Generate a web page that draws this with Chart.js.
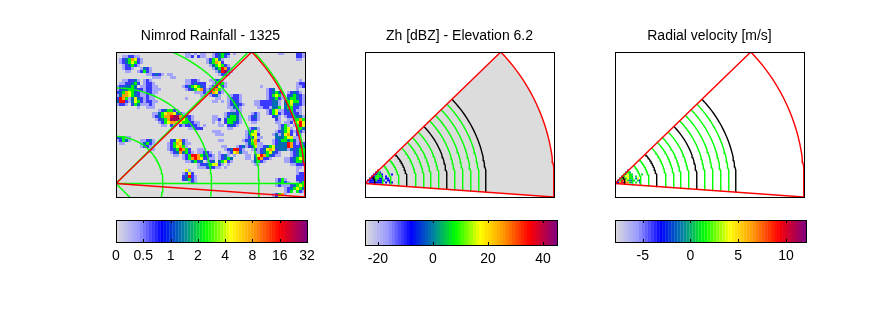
<!DOCTYPE html>
<html>
<head>
<meta charset="utf-8">
<script src="https://cdn.jsdelivr.net/npm/chart.js@4"></script>
<style>
body { margin: 0; background: #fff; width: 889px; height: 333px; overflow: hidden; position: relative; }
canvas { position: absolute; }
</style>
</head>
<body>
<script>
// colour scale shared by all panels (position 0..1)
const cmapStops = [0, 0.12, 0.24, 0.36, 0.47, 0.6, 0.72, 0.855, 1];
const cmapColors = ['#dcdcdc', '#9a9aff', '#0000ff', '#0088a0', '#00ff00', '#ffff00', '#ff9900', '#ff0000', '#800080'];
const cmapLevels = 64;

const titles = ['Nimrod Rainfall - 1325', 'Zh [dBZ] - Elevation 6.2', 'Radial velocity [m/s]'];

// colourbar ticks
const rainTicks = [0, 0.5, 1, 2, 4, 8, 16, 32];
const zhTicks = [-20, 0, 20, 40];
const velTicks = [-5, 0, 5, 10];
const zhRange = [-24.7, 45.1];
const velRange = [-7.9, 12.1];

// scan geometry in plot units
const rangeMax = 189;
const scanAngles = [-4.1, 44.1];
const rainRings = [47, 95.5, 143, 190.5];
const rainSpokes = [-45, 0, 44.8];
const greenRings = [18, 26, 34, 51, 59, 66, 74, 90, 98, 106, 114];
const blackRings = [10, 42, 82, 121];

// values per level char (1..8), '.' is no data
const rainLevels = [0.35, 0.7, 1.3, 2.5, 4.5, 8, 16, 28];
const zhLevels = [-18, -8, 0, 9, 18, 26, 35, 43];
const velLevels = [-6, -3, -1, 1, 4, 6.5, 9, 11.5];

// rain grid, 3 unit cells, row 0 at the top
const rainRows = [
  '.......... .......... ...11.1.11 ..123432.1 .......... ....11.... 221',
  '..112211.. .......... ...112.211 ..123421.. .......... .......... 221',
  '.12346521. .......... .......... 124531.... .......... .......... 11.',
  '.12345421. .......... .......... 134652.... .......... .......... ...',
  '..123421.. .......... .......... .1345421.. .......... .......... ...',
  '..1221..13 21........ .......... ..1347621. .......... .......... ...',
  '...11..124 21........ .......... ...137821. .......... .......... ...',
  '.......... 112321.11. .......... ....1221.. .......... .......... ...',
  '.......... ..111...11 .......... .......... .......... .......... ...',
  '..112231.1 21........ ...11221.. .11231.... .......... .......... .1.',
  '.1122342.1 221....... ...1123222 ..12341... .......... .......... 122',
  '1223343.11 2211...... ..12345432 .123521... ........1. .......... 112',
  '1233443221 22111..... ...1234562 124641.... .......... 123....... 1..',
  '2346543211 2211...... ......1112 136521.... .......... 123431.123 21.',
  '1366543211 211....... ........11 .1231..112 21........ 124541.234 321',
  '2764135321 211....... ...1...... ...11..122 21........ 123421.344 321',
  '3772135421 2211...... .......... ..11.1.123 21....1122 22331.3454 421',
  '1221.24311 121....... .......... .......123 321...1122 22331.3453 321',
  '.......1.. 111....... .......... .......113 21.....112 21334.3442 21.',
  '.......... ....123442 1......... ........11 21........ 1245112342 11.',
  '.......... ..11345665 321....... ......1233 21...121.. 1245212232 21.',
  '.......... ..12346678 864321.... ..11..1344 31..1231.. ..231.1223 331',
  '.......... ...1234688 875421.... ..112.2444 31..1221.. ...21..112 464',
  '.......... ....124566 55442211.. ..1.1.2443 21...11... ...11.112. 575',
  '.......... .....11.21 .2122221.1 ....11.232 1......... ....1241.1 475',
  '.......... .......... ....11222. .......11. ....1231.. ....13451. 343',
  '.......... .......... .......... ..111..... ...12451.. ...1234521 221',
  '.......... .......... .......... ...111.... ...13552.. ..1313562. 21.',
  '23411..... .......... .......... .......... ...123511. ...3334551 1..',
  '12431...11 231.....23 5621...... ....11.... ..123562.. ..12344343 11.',
  '.11.....13 421....124 65311..... .......... ...134611. ..12333762 122',
  '........12 21.....124 5641...... .....11... 1231235112 3453333762 233',
  '.......... .11....123 47642..111 ......1237 721..12123 5652333132 344',
  '.......... ........12 363421.112 21..1..125 6311..1123 45321...12 344',
  '.......... .........1 1.12477643 221.1231.1 ...11.2576 43211...12 343',
  '.......... .......... ..12467652 211.12343. ...11.3762 21....1123 454',
  '.......... .......... ...113423. 123.34521. .....13421 ......1123 443',
  '.......... .......... .......122 345521.1.. ......11.. ........11 222',
  '.......... .......... .......111 23211.1... .......... .......... 11.',
  '.......... .......... ...51..... .......... .......... .......... 1..',
  '.......... .......... ..1252.... .......... .......... .......... 122',
  '.......... .......... ..23721... .......... .......... .......... 222',
  '.......... .......... ..23421... .......... .......... ...1241... 222',
  '.......... .......... ....121... .......... .......... ...13421.. 124',
  '.......... .......... .......... .......... .......... ...1211123 454',
  '.......... .......... .......... .......... .......... ......1234 543',
  '.......... .......... .......... .......... .......... ......124. 421',
  '.......... .......... .......... .......... .......... ..12461... ...',
  '.......... .......... .......... .......... .......... ..125..... ...',
];

// radar grids near the origin, 2 unit cells, last row sits on the origin
const zhRows = [
  '......7.......',
  '.....222......',
  '....22422....2',
  '...224442.2...',
  '..2234422.22..',
  '.222242223.22.',
  '.12222222.2.22',
];
const velRows = [
  '......8.......',
  '.....343......',
  '....44534....4',
  '...345543.4...',
  '..3464544.35..',
  '.347654334.42.',
  '.26786643.4.3.',
];

function hexToRgb(h) {
  return [1, 3, 5].map(i => parseInt(h.substr(i, 2), 16));
}

function cmap(pos) {
  // snap to the colourmap levels
  let p = (Math.min(Math.floor(Math.max(pos, 0) * cmapLevels), cmapLevels - 1) + 0.5) / cmapLevels;
  let i = 0;
  while (i < cmapStops.length - 2 && p > cmapStops[i + 1]) i++;
  const t = (p - cmapStops[i]) / (cmapStops[i + 1] - cmapStops[i]);
  const a = hexToRgb(cmapColors[i]);
  const b = hexToRgb(cmapColors[i + 1]);
  const c = a.map((v, k) => Math.round(v + (b[k] - v) * t));
  return `rgb(${c[0]},${c[1]},${c[2]})`;
}

// rain colourbar has evenly spaced doubling ticks
function rainPos(v) {
  let i = 0;
  while (i < rainTicks.length - 2 && v > rainTicks[i + 1]) i++;
  return (i + (v - rainTicks[i]) / (rainTicks[i + 1] - rainTicks[i])) / (rainTicks.length - 1);
}

function cellsFrom(rows, levels, size, top) {
  const cells = [];
  rows.forEach((row, r) => {
    [...row.replace(/ /g, '')].forEach((ch, c) => {
      if (ch === '.') return;
      cells.push({ x: size * (c + 0.5), y: top - size * (r + 0.5), v: levels[+ch - 1] });
    });
  });
  return cells;
}

function polar(radius, deg) {
  return { x: radius * Math.cos(deg * Math.PI / 180), y: radius * Math.sin(deg * Math.PI / 180) };
}

function arc(radius, from, to) {
  const pts = [];
  for (let a = from; a < to; a += 1.5) pts.push(polar(radius, a));
  pts.push(polar(radius, to));
  return pts;
}

function line(data, color) {
  return { data: data, showLine: true, borderColor: color, borderWidth: 1.4, pointRadius: 0, fill: false };
}

function addCanvas(left, top, w, h) {
  const c = document.createElement('canvas');
  c.width = w;
  c.height = h;
  c.style.left = left + 'px';
  c.style.top = top + 'px';
  c.style.width = w + 'px';
  c.style.height = h + 'px';
  document.body.appendChild(c);
  return c;
}

const framePlugin = {
  id: 'frame',
  beforeDatasetsDraw(chart, args, opts) {
    if (!opts.bg) return;
    const a = chart.chartArea;
    chart.ctx.fillStyle = opts.bg;
    chart.ctx.fillRect(a.left, a.top, a.width, a.height);
  },
  afterDraw(chart) {
    const a = chart.chartArea;
    const ctx = chart.ctx;
    ctx.save();
    ctx.strokeStyle = '#000';
    ctx.lineWidth = 1;
    ctx.strokeRect(a.left + 0.5, a.top + 0.5, a.width, a.height);
    // colourbar ticks point inwards
    if (chart.config.type === 'bar') {
      chart.scales.x.ticks.forEach(t => {
        const x = Math.round(chart.scales.x.getPixelForValue(t.value)) + 0.5;
        ctx.beginPath();
        ctx.moveTo(x, a.top);
        ctx.lineTo(x, a.top + 3);
        ctx.moveTo(x, a.bottom);
        ctx.lineTo(x, a.bottom - 3);
        ctx.stroke();
      });
    }
    ctx.restore();
  }
};

function loadPanel(left, title, datasets, bg) {
  const canvas = addCanvas(left - 30, 20, 189 + 60, 32 + 145 + 10);
  new Chart(canvas, {
    type: 'scatter',
    data: { datasets: datasets },
    options: {
      responsive: false,
      animation: false,
      layout: { padding: { left: 30, right: 30, top: 0, bottom: 10 } },
      scales: {
        x: { display: false, min: 0, max: 189 },
        y: { display: false, min: -13.5, max: 131.5 }
      },
      plugins: {
        legend: { display: false },
        tooltip: { enabled: false },
        frame: { bg: bg },
        title: {
          display: true,
          text: title,
          color: '#000',
          font: { family: '"Liberation Sans"', size: 14, weight: 'normal', lineHeight: '16px' },
          padding: { top: 8, bottom: 8 }
        }
      }
    },
    plugins: [framePlugin]
  });
}

function loadBar(left, width, height, range, tickVals, tickLabels) {
  const canvas = addCanvas(left - 25, 210, width + 50, height + 10 + 40);
  const step = (range[1] - range[0]) / cmapLevels;
  const bars = [];
  const colors = [];
  for (let i = 0; i < cmapLevels; i++) {
    bars.push({ x: range[0] + step * (i + 0.5), y: 1 });
    colors.push(cmap((i + 0.5) / cmapLevels));
  }
  new Chart(canvas, {
    type: 'bar',
    data: { datasets: [{ data: bars, backgroundColor: colors, barPercentage: 1.06, categoryPercentage: 1 }] },
    options: {
      responsive: false,
      animation: false,
      layout: { padding: { left: 25, right: 25, top: 10, bottom: 14 } },
      scales: {
        x: {
          type: 'linear',
          offset: false,
          min: range[0],
          max: range[1],
          grid: { display: false, drawTicks: false },
          border: { display: false },
          afterBuildTicks: s => { s.ticks = tickVals.map(v => ({ value: v })); },
          afterFit: s => { s.height = 26; },
          ticks: {
            color: '#000',
            font: { family: '"Liberation Sans"', size: 14 },
            padding: 6,
            maxRotation: 0,
            autoSkip: false,
            callback: (v, i) => tickLabels[i]
          }
        },
        y: { display: false, min: 0, max: 1 }
      },
      plugins: { legend: { display: false }, tooltip: { enabled: false } }
    },
    plugins: [framePlugin]
  });
}

function cellSet(cells, size, colorOf) {
  return {
    data: cells,
    showLine: false,
    pointStyle: 'rect',
    pointRadius: size * Math.SQRT1_2,
    pointBorderWidth: 0,
    pointBackgroundColor: ctx => colorOf(ctx.raw.v)
  };
}

function arcTo(radius) {
  return arc(radius, scanAngles[0], scanAngles[1]);
}

function scanWedge() {
  return line([{ x: 0, y: 0 }].concat(arcTo(rangeMax), [{ x: 0, y: 0 }]), '#ff0000');
}

function radarSets(rows, levels, range, fillColor) {
  const colorOf = v => cmap((v - range[0]) / (range[1] - range[0]));
  const sets = [scanWedge()]
    .concat(blackRings.map(r => line(arcTo(r), '#000')))
    .concat(greenRings.map(r => line(arcTo(r), '#00ff00')))
    .concat([cellSet(cellsFrom(rows, levels, 2, rows.length * 2), 2, colorOf)]);
  if (fillColor) {
    const back = scanWedge();
    back.fill = 'shape';
    back.backgroundColor = fillColor;
    back.borderWidth = 0;
    sets.push(back);
  }
  return sets;
}

const rainSets = [scanWedge()]
  .concat(rainRings.map(r => line(arc(r, -90, 90), '#00ff00')))
  .concat(rainSpokes.map(a => line([{ x: 0, y: 0 }, polar(300, a)], '#00ff00')))
  .concat([cellSet(cellsFrom(rainRows, rainLevels, 3, 131.5), 3, v => cmap(rainPos(v)))]);

loadPanel(116, titles[0], rainSets, '#dcdcdc');
loadPanel(365, titles[1], radarSets(zhRows, zhLevels, zhRange, '#dcdcdc'), null);
loadPanel(615, titles[2], radarSets(velRows, velLevels, velRange, null), null);

loadBar(116, 191, 22, [0, rainTicks.length - 1], rainTicks.map((t, i) => i), rainTicks.map(String));
loadBar(365, 192, 25, zhRange, zhTicks, zhTicks.map(String));
loadBar(615, 191, 22, velRange, velTicks, velTicks.map(String));
</script>
</body>
</html>
